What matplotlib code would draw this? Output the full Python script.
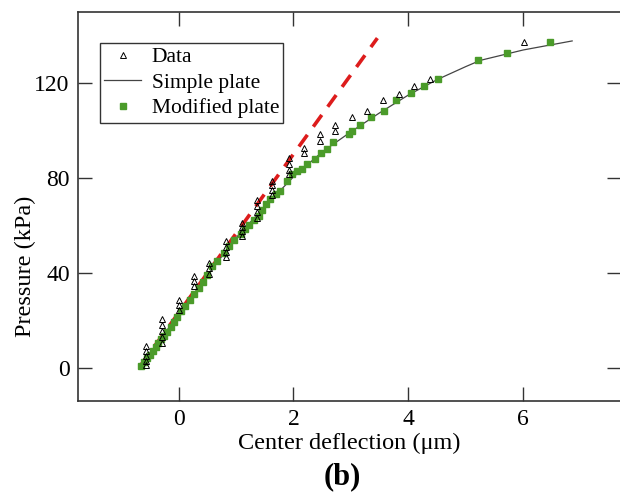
import matplotlib.pyplot as plt

plt.rcParams['font.family'] = ['Liberation Serif', 'DejaVu Serif']

# measured data (triangles)
data_x = [-0.56, -0.56, -0.56, -0.56, -0.56,
          -0.28, -0.28, -0.28, -0.28, -0.28,
          0.0, 0.0, 0.0,
          0.27, 0.27, 0.27,
          0.53, 0.53, 0.53,
          0.82, 0.82, 0.82, 0.82,
          1.10, 1.10, 1.10, 1.10,
          1.37, 1.37, 1.37, 1.37,
          1.63, 1.63, 1.63, 1.63,
          1.92, 1.92, 1.92, 1.92,
          2.19, 2.19, 2.47, 2.47, 2.73, 2.73,
          3.01, 3.28, 3.55, 3.83, 4.10, 4.37, 6.01]
data_y = [1, 3, 5, 7, 9,
          10.5, 13, 15.5, 18, 20.5,
          24.5, 26.5, 28.5,
          34.5, 36.5, 38.7,
          39.5, 42, 44.2,
          46.5, 49, 51, 53.5,
          55.5, 57.5, 59.5, 61.2,
          63, 65.5, 68, 70.6,
          73, 75, 77, 78.9,
          81.5, 83.5, 86, 88.3,
          90.7, 92.8, 95.7, 98.7, 100, 102.5,
          105.9, 108.4, 112.8, 115.6, 118.6, 121.7, 137.5]

# simple plate model (line)
simple_x = [-0.66, 0.0, 0.5, 1.0, 1.5, 2.0, 2.5, 3.0, 3.5, 4.0, 4.5, 5.0, 5.25, 6.0, 6.85]
simple_y = [0.6, 22.5, 39, 54.8, 68, 80.5, 91, 99.5, 107.5, 115, 121.5, 127, 129.6, 134, 137.8]

# modified plate model (squares)
mod_x = [-0.66, -0.6, -0.55, -0.5, -0.45, -0.4, -0.35, -0.3, -0.25, -0.2, -0.14, -0.08, -0.02,
         0.05, 0.12, 0.2, 0.27, 0.35, 0.42, 0.5, 0.59, 0.67, 0.79, 0.88, 0.97, 1.08, 1.15,
         1.22, 1.31, 1.40, 1.46, 1.53, 1.60, 1.69, 1.77, 1.89, 1.98, 2.06, 2.15, 2.24, 2.37,
         2.48, 2.59, 2.69, 2.96, 3.02, 3.15, 3.35, 3.57, 3.79, 4.04, 4.27, 4.51, 5.21, 5.72, 6.47]
mod_y = [0.6, 2.5, 4, 5.5, 7, 8.8, 10.5, 12, 13.5, 15.2, 17, 19.5, 21.5,
         24, 26, 28.5, 31, 33.5, 36, 39, 42.8, 45, 48.4, 51.5, 54, 56.2, 58.5,
         60.4, 62.5, 63.9, 66.5, 68.9, 71, 73.1, 74.5, 78.9, 81.5, 83, 84, 85.8, 88.1,
         90.7, 92.1, 95.3, 98.7, 99.7, 102.5, 105.8, 108.4, 112.8, 115.7, 118.6, 121.7, 129.6, 132.7, 137.2]

# linear (small deflection) fit, red dashed
lin_x = [-0.66, 3.46]
lin_y = [1, 139]

fig = plt.figure(figsize=(6.2, 4.94), dpi=100)
ax = fig.add_axes([78 / 620, 1 - 401 / 494, 543 / 620, 389 / 494])

ax.plot(lin_x, lin_y, color='#dd1c1c', lw=2.6, dashes=(4, 2.8), zorder=1)
ax.plot(simple_x, simple_y, color='#444444', lw=0.9, label='Simple plate', zorder=2)
ax.plot(mod_x, mod_y, ls='none', marker='s', ms=5, color='#4b9b2a', mec='#4b9b2a',
        label='Modified plate', zorder=3)
ax.plot(data_x, data_y, ls='none', marker='^', ms=5, mfc='none', mec='black', mew=0.7,
        label='Data', zorder=4)

ax.set_xlim(-1.75, 7.7)
ax.set_ylim(-14, 150)
ax.set_xticks([0, 2, 4, 6])
ax.set_yticks([0, 40, 80, 120])
ax.tick_params(direction='in', length=10, width=1, top=True, right=True,
               labelsize=17, color='#333333', pad=6)
for s in ax.spines.values():
    s.set_color('#333333')
    s.set_linewidth(1.2)

ax.set_xlabel('Center deflection (\u03bcm)', fontsize=17.5, labelpad=2)
ax.set_ylabel('Pressure (kPa)', fontsize=17.5)
ax.yaxis.set_label_coords(-0.078, 0.345)
fig.text(342 / 620, 0.006, '(b)', fontsize=22, fontweight='bold',
         ha='center', va='bottom')

h, l = ax.get_legend_handles_labels()
order = [2, 0, 1]
leg = ax.legend([h[i] for i in order], [l[i] for i in order], loc='upper left',
                bbox_to_anchor=(22 / 543, 1 - 31 / 389), fontsize=15.5, fancybox=False,
                edgecolor='#333333', framealpha=1, borderpad=0.2, borderaxespad=0,
                labelspacing=0.25, handlelength=1.7, handletextpad=0.5, markerscale=0.8)
leg.get_frame().set_linewidth(1.0)

fig.savefig('out.png', dpi=100)
